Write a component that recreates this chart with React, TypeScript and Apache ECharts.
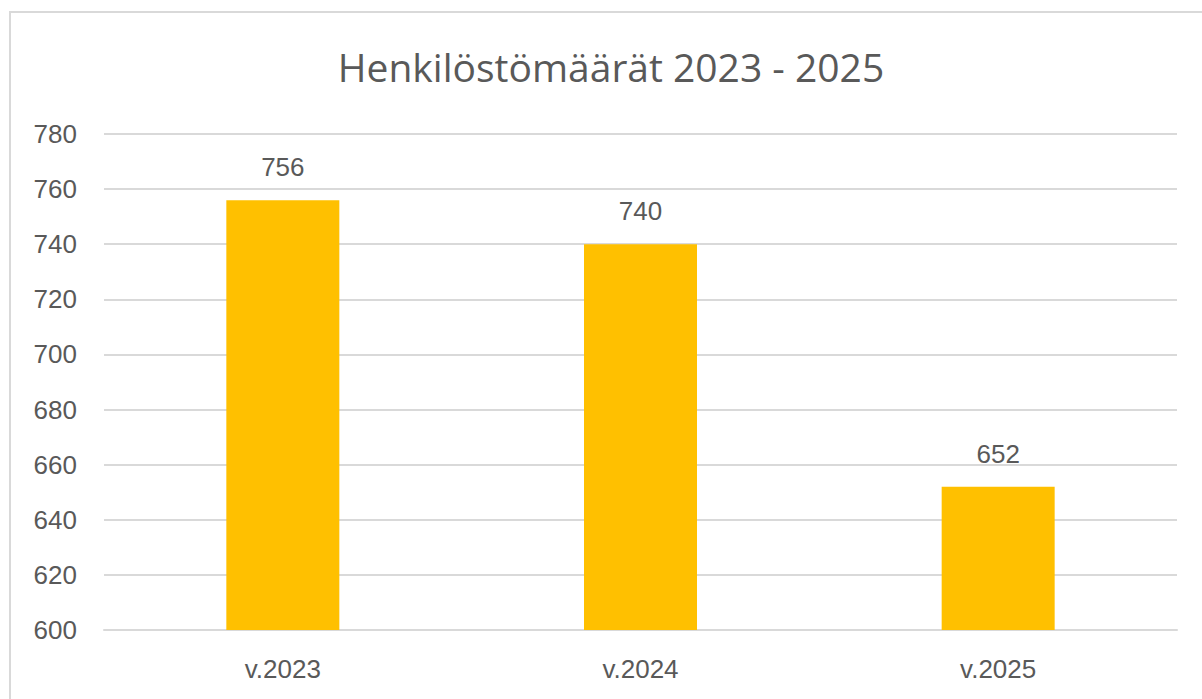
import React, { useEffect, useRef } from "react";
import * as echarts from "echarts";

const categories = ["v.2023", "v.2024", "v.2025"];
const values = [756, 740, 652];
const yTicks = { min: 600, max: 780, interval: 20 };
const title = "Henkilöstömäärät 2023 - 2025";

const labelFont = '"Liberation Sans", Arial, sans-serif';

export default function App() {
  const ref = useRef<HTMLDivElement>(null);
  useEffect(() => {
    if (!ref.current) return;
    const chart = echarts.init(ref.current, undefined, { renderer: "svg" });
    chart.setOption({
      animation: false,
      backgroundColor: "#ffffff",
      graphic: [
        {
          type: "rect",
          shape: { x: 10, y: 12, width: 1220, height: 720 },
          style: { fill: "none", stroke: "#d9d9d9", lineWidth: 2 },
          silent: true,
        },
        {
          type: "text",
          x: 611,
          y: 66,
          style: {
            text: title,
            fill: "#595959",
            font: '39px "Open Sans", "Noto Sans", sans-serif',
            textAlign: "center",
            textVerticalAlign: "middle",
          },
        },
      ],
      grid: { left: 104, right: 25, top: 134, bottom: 69 },
      xAxis: {
        type: "category",
        data: categories,
        axisLine: { show: true, lineStyle: { color: "#d9d9d9", width: 2 } },
        axisTick: { show: false },
        axisLabel: {
          color: "#595959",
          fontSize: 26,
          fontFamily: labelFont,
          margin: 26,
        },
      },
      yAxis: {
        type: "value",
        min: yTicks.min,
        max: yTicks.max,
        interval: yTicks.interval,
        axisLine: { show: false },
        axisTick: { show: false },
        axisLabel: {
          color: "#595959",
          fontSize: 26,
          fontFamily: labelFont,
          margin: 27,
        },
        splitLine: { lineStyle: { color: "#d9d9d9", width: 2 } },
      },
      series: [
        {
          type: "bar",
          data: values,
          barWidth: 113,
          itemStyle: { color: "#FFC000" },
          label: {
            show: true,
            position: "top",
            distance: 20,
            color: "#595959",
            fontSize: 26,
            fontFamily: labelFont,
          },
        },
      ],
    });
    return () => chart.dispose();
  }, []);
  return (
    <div
      ref={ref}
      style={{ position: "fixed", left: 0, top: 0, width: 1202, height: 699 }}
    />
  );
}
